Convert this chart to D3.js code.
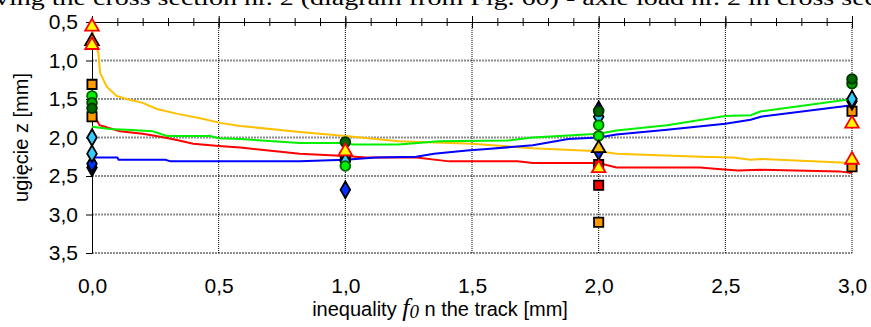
<!DOCTYPE html>
<html>
<head>
<meta charset="utf-8">
<script src="https://cdn.jsdelivr.net/npm/d3@7"></script>
<style>
body { margin: 0; background: #fff; }
svg { display: block; }
</style>
</head>
<body>
<svg id="chart" width="871" height="327"></svg>
<script>
// computed lines (x = inequality, y = deflection)
var yellowX = [0.003, 0.012, 0.025, 0.032, 0.058, 0.097, 0.137, 0.2, 0.256, 0.334, 0.427, 0.506, 0.585, 0.82, 1.0, 1.21, 1.5, 1.74, 2.0, 2.07, 2.4, 2.53, 2.6, 2.64, 3.0];
var yellowY = [0.62, 0.78, 0.90, 1.16, 1.34, 1.46, 1.50, 1.55, 1.63, 1.69, 1.75, 1.81, 1.85, 1.93, 1.98, 2.05, 2.08, 2.14, 2.18, 2.21, 2.25, 2.26, 2.29, 2.28, 2.33];
var greenX = [0, 0.07, 0.137, 0.24, 0.295, 0.466, 0.5, 0.585, 0.82, 1.0, 1.03, 1.21, 1.37, 1.64, 1.74, 2.0, 2.07, 2.27, 2.5, 2.6, 2.64, 3.0];
var greenY = [1.86, 1.89, 1.90, 1.92, 1.98, 1.98, 2.01, 2.02, 2.07, 2.07, 2.09, 2.09, 2.05, 2.04, 2.00, 1.95, 1.91, 1.84, 1.72, 1.71, 1.66, 1.50];
var blueX = [0, 0.1, 0.105, 0.29, 0.31, 0.82, 1.0, 1.12, 1.28, 1.35, 1.48, 1.56, 1.74, 1.88, 2.0, 2.07, 2.27, 2.5, 2.6, 2.64, 3.0];
var blueY = [2.26, 2.26, 2.29, 2.29, 2.31, 2.31, 2.29, 2.26, 2.25, 2.21, 2.17, 2.15, 2.10, 2.02, 2.00, 1.96, 1.90, 1.82, 1.77, 1.73, 1.58];
var redX = [0.005, 0.018, 0.03, 0.07, 0.11, 0.2, 0.27, 0.33, 0.4, 0.5, 0.585, 0.82, 1.0, 1.08, 1.28, 1.41, 1.68, 1.74, 2.0, 2.07, 2.4, 2.47, 2.55, 2.64, 2.95, 3.0];
var redY = [1.60, 1.77, 1.84, 1.88, 1.92, 1.95, 1.99, 2.03, 2.08, 2.11, 2.13, 2.21, 2.24, 2.26, 2.26, 2.31, 2.31, 2.33, 2.33, 2.39, 2.39, 2.41, 2.43, 2.42, 2.44, 2.46];

// measured points at x = 0, 1, 2, 3
var pointX = [0, 1, 2, 3];
var sqOrangeA = [1.31, null, 3.10, 1.66];
var sqOrangeB = [1.73, null, null, 2.38];
var sqRedA = [null, 2.25, 2.35, null];
var sqRedB = [null, null, 2.62, null];
var circLimeA = [1.46, 2.37, 1.84, null];
var circLimeB = [null, null, 1.98, null];
var circGreen = [1.55, null, null, 1.30];
var circDark = [1.62, 2.06, 1.66, 1.24];
var diaLightA = [2.00, 2.31, 1.73, 1.50];
var diaLightB = [2.21, null, null, null];
var diaBlue = [2.34, 2.68, 2.18, 1.53];
var diaNavy = [2.39, null, 1.64, null];
var triGold = [0.75, null, 2.14, null];
var triRedA = [0.80, null, null, 1.82];
var triRedB = [0.56, 2.18, 2.40, 2.29];

var xTicks = [0, 0.5, 1, 1.5, 2, 2.5, 3];
var yTicks = [0.5, 1, 1.5, 2, 2.5, 3, 3.5];

var svg = d3.select('#chart'),
	margin = {top: 22, right: 19, bottom: 74, left: 92},
	width = +svg.attr("width") - margin.left - margin.right,
	height = +svg.attr("height") - margin.top - margin.bottom;

var sans = "'Liberation Sans', Arial, sans-serif",
	serif = "'Liberation Serif', 'Times New Roman', serif";

var x = d3.scaleLinear().domain([0, 3]).range([0, width]);
var y = d3.scaleLinear().domain([0.5, 3.5]).range([0, height]);
var fmt = function(d) { return d3.format(".1f")(d).replace(".", ","); };

// caption line cut off at the very top (as in the source page)
svg.append("text")
	.attr("x", -5).attr("y", 5)
	.attr("textLength", 882)
	.attr("lengthAdjust", "spacingAndGlyphs")
	.style("font-family", serif)
	.style("font-size", "22px")
	.text("ving the cross section nr. 2 (diagram from Fig. 60) - axle load nr. 2 in cross sec");

var chart = svg.append("g")
	.attr("transform", "translate(" + margin.left + "," + margin.top + ")");

// horizontal grid
chart.selectAll("line.hgrid")
	.data(yTicks.slice(1))
	.enter().append("line")
	.attr("class", "hgrid")
	.attr("x1", 0).attr("x2", width)
	.attr("y1", function(d) { return y(d); })
	.attr("y2", function(d) { return y(d); })
	.attr("stroke", "#8c8c8c")
	.attr("stroke-width", 2)
	.attr("stroke-dasharray", "2,1");

// vertical grid
chart.selectAll("line.vgrid")
	.data(xTicks.slice(1))
	.enter().append("line")
	.attr("class", "vgrid")
	.attr("y1", 0).attr("y2", height)
	.attr("x1", function(d) { return x(d); })
	.attr("x2", function(d) { return x(d); })
	.attr("stroke", "#000")
	.attr("stroke-width", 1)
	.attr("stroke-dasharray", "1,1");

// top axis with crossing ticks
var minor = d3.range(0, 31).map(function(i) { return i / 10; });
chart.append("g").call(d3.axisTop(x).tickValues(minor).tickSize(4).tickFormat(""));
chart.append("g").call(d3.axisBottom(x).tickValues(minor).tickSize(4).tickFormat(""));
chart.append("g").call(d3.axisTop(x).tickValues(xTicks).tickSize(6).tickFormat(""));
chart.append("g").call(d3.axisBottom(x).tickValues(xTicks).tickSize(6).tickFormat(""));

// y axis
chart.append("g").call(d3.axisLeft(y).tickValues(yTicks).tickSize(6).tickFormat(""));
var yAxis = chart.append("g")
	.call(d3.axisLeft(y).tickValues(yTicks).tickSize(0).tickPadding(14).tickFormat(fmt));
yAxis.select(".domain").remove();

// x labels along the bottom
var xAxis = chart.append("g")
	.attr("transform", "translate(0," + height + ")")
	.call(d3.axisBottom(x).tickValues(xTicks).tickSize(0).tickPadding(25).tickFormat(fmt));
xAxis.select(".domain").remove();

svg.selectAll(".tick text")
	.style("font-family", sans)
	.style("font-size", "21px")
	.attr("fill", "#000");
svg.selectAll(".domain, .tick line").attr("stroke", "#000");

// lines
var line = d3.line()
	.x(function(d) { return x(d[0]); })
	.y(function(d) { return y(d[1]); });
var lines = [
	{xs: yellowX, ys: yellowY, color: "#ffc000"},
	{xs: redX, ys: redY, color: "#ff0000"},
	{xs: blueX, ys: blueY, color: "#0000ff"},
	{xs: greenX, ys: greenY, color: "#00f000"}
];
chart.selectAll("path.series")
	.data(lines)
	.enter().append("path")
	.attr("class", "series")
	.attr("d", function(d) { return line(d3.zip(d.xs, d.ys)); })
	.attr("fill", "none")
	.attr("stroke", function(d) { return d.color; })
	.attr("stroke-width", 2);

// markers
var markers = [
	{vals: sqOrangeA, shape: d3.symbolSquare, size: 85, fill: "#ff9900", stroke: "#000"},
	{vals: sqOrangeB, shape: d3.symbolSquare, size: 85, fill: "#ff9900", stroke: "#000"},
	{vals: sqRedB, shape: d3.symbolSquare, size: 85, fill: "#ff0000", stroke: "#000"},
	{vals: sqRedA, shape: d3.symbolSquare, size: 85, fill: "#ff0000", stroke: "#000"},
	{vals: diaNavy, shape: d3.symbolDiamond, size: 80, fill: "#000099", stroke: "#000"},
	{vals: diaBlue, shape: d3.symbolDiamond, size: 80, fill: "#0033ff", stroke: "#000"},
	{vals: diaLightB, shape: d3.symbolDiamond, size: 80, fill: "#33ccff", stroke: "#000"},
	{vals: diaLightA, shape: d3.symbolDiamond, size: 80, fill: "#33ccff", stroke: "#000"},
	{vals: circLimeB, shape: d3.symbolCircle, size: 75, fill: "#00ee00", stroke: "#006600"},
	{vals: circLimeA, shape: d3.symbolCircle, size: 75, fill: "#00ee00", stroke: "#006600"},
	{vals: circGreen, shape: d3.symbolCircle, size: 75, fill: "#00a000", stroke: "#004400"},
	{vals: circDark, shape: d3.symbolCircle, size: 75, fill: "#006600", stroke: "#003300"},
	{vals: triGold, shape: d3.symbolTriangle, size: 80, fill: "#ffc000", stroke: "#000"},
	{vals: triRedA, shape: d3.symbolTriangle, size: 80, fill: "#ffff00", stroke: "#ff0000"},
	{vals: triRedB, shape: d3.symbolTriangle, size: 80, fill: "#ffff00", stroke: "#ff0000"}
];
markers.forEach(function(m) {
	var pts = pointX.map(function(px, i) { return [px, m.vals[i]]; })
		.filter(function(p) { return p[1] != null; });
	chart.selectAll(null)
		.data(pts)
		.enter().append("path")
		.attr("d", d3.symbol().type(m.shape).size(m.size))
		.attr("transform", function(p) { return "translate(" + x(p[0]) + "," + y(p[1]) + ")"; })
		.attr("fill", m.fill)
		.attr("stroke", m.stroke)
		.attr("stroke-width", 1.8);
});

// axis titles
svg.append("text")
	.attr("transform", "translate(28," + (margin.top + height / 2) + ") rotate(-90)")
	.attr("text-anchor", "middle")
	.style("font-family", sans)
	.style("font-size", "20px")
	.text("ugięcie z [mm]");

var xt = svg.append("text")
	.attr("x", 440)
	.attr("y", 316)
	.attr("text-anchor", "middle")
	.style("font-family", sans)
	.style("font-size", "20px");
xt.append("tspan").text("inequality ");
xt.append("tspan")
	.style("font-family", serif)
	.style("font-style", "italic")
	.style("font-size", "26px")
	.text("f");
xt.append("tspan")
	.style("font-family", serif)
	.style("font-style", "italic")
	.style("font-size", "19px")
	.attr("dy", 2)
	.text("0");
xt.append("tspan")
	.attr("dy", -2)
	.text(" n the track [mm]");
</script>
</body>
</html>
